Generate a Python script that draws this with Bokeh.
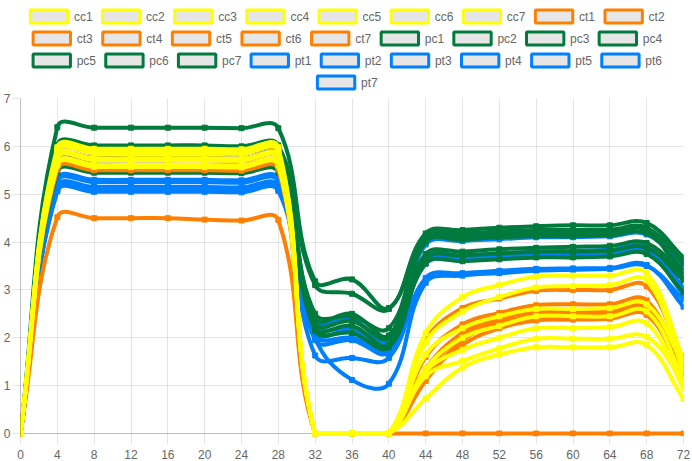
import numpy as np
from bokeh.plotting import figure
from bokeh.layouts import column
from bokeh.models import Range1d, FixedTicker, Span
from bokeh.embed import file_html
from bokeh.resources import INLINE
from bokeh.core.properties import value

# ---------------- data ----------------
hours = list(range(0, 73, 4))
y_ticks = list(range(0, 8))

cc1 = [0, 5.98, 5.95, 5.95, 5.95, 5.95, 5.94, 5.98, 0, 0, 0, 2.10, 2.85, 3.10, 3.28, 3.30, 3.30, 3.35, 1.55]
cc2 = [0, 5.93, 5.90, 5.90, 5.90, 5.90, 5.89, 5.93, 0, 0, 0, 1.90, 2.55, 2.85, 3.05, 3.08, 3.10, 3.20, 1.30]
cc3 = [0, 5.89, 5.86, 5.86, 5.86, 5.86, 5.85, 5.89, 0, 0, 0, 1.65, 2.20, 2.45, 2.60, 2.60, 2.62, 2.70, 1.45]
cc4 = [0, 5.78, 5.75, 5.75, 5.75, 5.75, 5.74, 5.78, 0, 0, 0, 1.35, 2.00, 2.25, 2.45, 2.45, 2.45, 2.55, 1.15]
cc5 = [0, 5.74, 5.71, 5.71, 5.71, 5.71, 5.70, 5.74, 0, 0, 0, 1.30, 1.75, 2.00, 2.20, 2.20, 2.22, 2.30, 0.95]
cc6 = [0, 5.64, 5.61, 5.61, 5.61, 5.61, 5.60, 5.64, 0, 0, 0, 1.20, 1.52, 1.78, 1.98, 1.98, 1.98, 2.02, 1.10]
cc7 = [0, 5.60, 5.57, 5.57, 5.57, 5.57, 5.56, 5.60, 0, 0, 0, 0.73, 1.38, 1.65, 1.80, 1.80, 1.80, 1.85, 0.72]

ct1 = [0, 5.52, 5.50, 5.50, 5.50, 5.50, 5.49, 5.52, 0, 0, 0, 1.95, 2.62, 2.82, 2.98, 3.00, 3.00, 3.08, 1.45]
ct2 = [0, 5.63, 5.61, 5.61, 5.61, 5.61, 5.60, 5.63, 0, 0, 0, 1.60, 2.28, 2.52, 2.68, 2.70, 2.70, 2.78, 1.25]
ct3 = [0, 5.73, 5.71, 5.71, 5.71, 5.71, 5.70, 5.73, 0, 0, 0, 1.10, 1.95, 2.30, 2.48, 2.50, 2.50, 2.60, 1.60]
ct4 = [0, 4.52, 4.50, 4.50, 4.50, 4.47, 4.45, 4.46, 0, 0, 0, 1.25, 2.05, 2.35, 2.40, 2.42, 2.42, 2.50, 1.30]
ct5 = [0, 5.59, 5.57, 5.57, 5.57, 5.57, 5.56, 5.59, 0, 0, 0, 1.15, 1.85, 2.20, 2.36, 2.38, 2.40, 2.48, 1.20]
ct6 = [0, 5.77, 5.75, 5.75, 5.75, 5.75, 5.74, 5.77, 0, 0, 0, 1.35, 2.10, 2.40, 2.55, 2.55, 2.55, 2.65, 1.40]
ct7 = [0, 5.88, 5.86, 5.86, 5.86, 5.86, 5.85, 5.88, 0, 0, 0, 0, 0, 0, 0, 0, 0, 0, 0]

pc1 = [0, 6.40, 6.39, 6.39, 6.39, 6.39, 6.38, 6.38, 3.18, 3.22, 2.62, 4.18, 4.25, 4.30, 4.33, 4.35, 4.35, 4.40, 3.68]
pc2 = [0, 6.03, 6.02, 6.02, 6.02, 6.02, 6.00, 6.02, 3.10, 2.92, 2.60, 4.12, 4.18, 4.22, 4.25, 4.25, 4.26, 4.30, 3.55]
pc3 = [0, 5.57, 5.56, 5.56, 5.56, 5.56, 5.55, 5.57, 2.50, 2.45, 2.20, 4.05, 4.10, 4.15, 4.18, 4.18, 4.20, 4.25, 3.22]
pc4 = [0, 5.46, 5.45, 5.45, 5.45, 5.45, 5.44, 5.46, 2.30, 2.35, 2.00, 3.75, 3.80, 3.85, 3.88, 3.90, 3.92, 3.98, 3.30]
pc5 = [0, 5.76, 5.75, 5.75, 5.75, 5.75, 5.74, 5.76, 2.20, 2.25, 1.85, 3.65, 3.72, 3.76, 3.80, 3.80, 3.82, 3.88, 3.20]
pc6 = [0, 5.62, 5.61, 5.61, 5.61, 5.61, 5.60, 5.62, 2.15, 2.10, 1.80, 3.55, 3.60, 3.64, 3.68, 3.68, 3.70, 3.75, 2.95]
pc7 = [0, 5.90, 5.89, 5.89, 5.89, 5.89, 5.88, 5.90, 2.40, 2.50, 2.05, 4.00, 4.05, 4.10, 4.12, 4.12, 4.14, 4.18, 3.40]

pt1 = [0, 5.72, 5.71, 5.71, 5.71, 5.72, 5.74, 5.80, 2.35, 2.40, 1.90, 4.08, 4.15, 4.18, 4.20, 4.22, 4.22, 4.27, 3.62]
pt2 = [0, 5.31, 5.30, 5.30, 5.30, 5.30, 5.29, 5.32, 2.05, 2.00, 1.75, 3.68, 3.72, 3.76, 3.80, 3.82, 3.84, 3.90, 3.05]
pt3 = [0, 5.16, 5.15, 5.15, 5.15, 5.15, 5.14, 5.17, 1.63, 1.58, 1.58, 3.25, 3.35, 3.40, 3.44, 3.45, 3.46, 3.52, 2.65]
pt4 = [0, 5.09, 5.08, 5.08, 5.08, 5.08, 5.07, 5.10, 2.00, 1.12, 1.04, 3.15, 3.30, 3.35, 3.40, 3.42, 3.44, 3.50, 2.80]
pt5 = [0, 5.06, 5.05, 5.05, 5.05, 5.05, 5.04, 5.07, 1.95, 1.95, 1.70, 3.60, 3.66, 3.70, 3.74, 3.75, 3.76, 3.82, 2.90]
pt6 = [0, 5.13, 5.12, 5.12, 5.12, 5.12, 5.11, 5.14, 2.25, 2.20, 1.95, 3.95, 4.02, 4.06, 4.10, 4.10, 4.12, 4.16, 3.50]
pt7 = [0, 5.26, 5.25, 5.25, 5.25, 5.25, 5.24, 5.27, 2.10, 2.15, 1.80, 3.55, 3.62, 3.66, 3.70, 3.72, 3.74, 3.80, 3.00]

series_names = ["cc1", "cc2", "cc3", "cc4", "cc5", "cc6", "cc7",
                "ct1", "ct2", "ct3", "ct4", "ct5", "ct6", "ct7",
                "pc1", "pc2", "pc3", "pc4", "pc5", "pc6", "pc7",
                "pt1", "pt2", "pt3", "pt4", "pt5", "pt6", "pt7"]
series_values = [cc1, cc2, cc3, cc4, cc5, cc6, cc7,
                 ct1, ct2, ct3, ct4, ct5, ct6, ct7,
                 pc1, pc2, pc3, pc4, pc5, pc6, pc7,
                 pt1, pt2, pt3, pt4, pt5, pt6, pt7]
group_colors = {"cc": "#FFFF00", "ct": "#FF8000", "pc": "#007A3D", "pt": "#0080FF"}

# ---------------- layout constants ----------------
W = 692
LEG_H = 92
CH_H = 461 - LEG_H
BL, BR, BT = 17, 9, 6
PLOT_PX_H = 335          # pixel height of the 0..7 value span
EXTRA_BOTTOM_PX = 3      # lets the zero-valued lines show full width
BB = CH_H - BT - PLOT_PX_H - EXTRA_BOTTOM_PX
X0, X1, Y0, Y1 = 0, 72, 0, 7
SX = (W - BL - BR) / (X1 - X0)
SY = PLOT_PX_H / (Y1 - Y0)
TENSION = 0.4
FONT = "Liberation Sans"
GRID = "rgba(0,0,0,0.1)"
ZERO = "rgba(0,0,0,0.25)"


def spline_controls(xs, ys):
    """Chart.js-style spline control points (computed in pixel space)."""
    xs = np.asarray(xs, float)
    ys = np.asarray(ys, float)
    px, py = xs * SX, ys * SY
    n = len(xs)
    pcx, pcy, ncx, ncy = (np.zeros(n) for _ in range(4))
    for i in range(n):
        a = i - 1 if i > 0 else i
        b = i + 1 if i < n - 1 else i
        d01 = np.hypot(px[i] - px[a], py[i] - py[a])
        d12 = np.hypot(px[b] - px[i], py[b] - py[i])
        tot = d01 + d12
        s01 = d01 / tot if tot > 0 else 0.0
        s12 = d12 / tot if tot > 0 else 0.0
        fa, fb = TENSION * s01, TENSION * s12
        pcx[i] = px[i] - fa * (px[b] - px[a])
        pcy[i] = py[i] - fa * (py[b] - py[a])
        ncx[i] = px[i] + fb * (px[b] - px[a])
        ncy[i] = py[i] + fb * (py[b] - py[a])
    pcx, ncx = np.clip(pcx / SX, X0, X1), np.clip(ncx / SX, X0, X1)
    pcy, ncy = np.clip(pcy / SY, Y0, Y1), np.clip(ncy / SY, Y0, Y1)
    return pcx, pcy, ncx, ncy


# ---------------- chart ----------------
p = figure(width=W, height=CH_H, output_backend="svg", toolbar_location=None,
           x_range=Range1d(X0, X1),
           y_range=Range1d(Y0 - EXTRA_BOTTOM_PX / SY, Y1),
           min_border_left=BL, min_border_right=BR, min_border_top=BT, min_border_bottom=BB)
p.outline_line_color = None
p.background_fill_color = "white"
p.border_fill_color = "white"

for ax, ticks in ((p.xaxis[0], hours), (p.yaxis[0], y_ticks)):
    ax.ticker = FixedTicker(ticks=ticks)
    ax.major_tick_line_color = GRID
    ax.major_tick_in = 0
    ax.major_tick_out = 8
    ax.minor_tick_line_color = None
    ax.major_label_text_font = FONT
    ax.major_label_text_font_size = "12px"
    ax.major_label_text_color = "#666666"
    ax.major_label_standoff = 2
p.yaxis[0].axis_line_color = ZERO
p.xaxis[0].axis_line_color = None
p.xaxis[0].major_label_standoff = 2 + EXTRA_BOTTOM_PX
p.xgrid[0].ticker = FixedTicker(ticks=hours)
p.ygrid[0].ticker = FixedTicker(ticks=[t for t in y_ticks if t > 0])
p.grid.grid_line_color = GRID
p.grid.grid_line_width = 1
p.add_layout(Span(location=0, dimension="width", line_color=ZERO, line_width=1,
                  level="underlay"))

# Chart.js draws the first dataset on top -> render in reverse order
for name, vals in reversed(list(zip(series_names, series_values))):
    col = group_colors[name[:2]]
    xs = np.asarray(hours, float)
    ys = np.asarray(vals, float)
    pcx, pcy, ncx, ncy = spline_controls(xs, ys)
    p.bezier(x0=xs[:-1], y0=ys[:-1], x1=xs[1:], y1=ys[1:],
             cx0=ncx[:-1], cy0=ncy[:-1], cx1=pcx[1:], cy1=pcy[1:],
             line_color=col, line_width=4, line_cap="round")
    p.scatter(xs, ys, marker="square", size=5, fill_color=col, line_color=col)

# ---------------- legend (Chart.js style) ----------------
leg = figure(width=W, height=LEG_H, output_backend="svg", toolbar_location=None,
             x_range=Range1d(0, W), y_range=Range1d(LEG_H, 0),
             min_border=0, min_border_left=0, min_border_right=0,
             min_border_top=0, min_border_bottom=0)
leg.axis.visible = False
leg.grid.visible = False
leg.outline_line_color = None

BOX_W, FS, PAD = 40, 12, 10
char_w = {"c": 6.25, "t": 3.6, "p": 6.8}


def text_width(s):
    return sum(char_w.get(ch, 6.8) for ch in s)


rows = []
for name in series_names:
    w = BOX_W + FS / 2 + text_width(name)
    if not rows or rows[-1][0] + w + PAD > W:
        rows.append([0.0, []])
    rows[-1][0] += w + PAD
    rows[-1][1].append((name, w))

bx, by, tx, ty, cols, labels = [], [], [], [], [], []
for r, (lw, items) in enumerate(rows):
    cx = (W - lw) / 2
    cy = PAD + r * (FS + PAD)
    for name, w in items:
        bx.append(cx + BOX_W / 2)
        by.append(cy + FS / 2)
        tx.append(cx + BOX_W + FS / 2)
        ty.append(cy + FS / 2)
        cols.append(group_colors[name[:2]])
        labels.append(name)
        cx += w + PAD

leg.rect(x=bx, y=by, width=BOX_W - 1, height=FS + 1, fill_color="#e6e6e6",
         line_color=cols, line_width=3)
leg.text(x=tx, y=ty, text=labels, text_font=value(FONT), text_font_size="12px",
         text_color="#666666", text_baseline="middle", text_align="left")

layout = column(leg, p, spacing=0)
open("out.html", "w").write(file_html(layout, INLINE))
